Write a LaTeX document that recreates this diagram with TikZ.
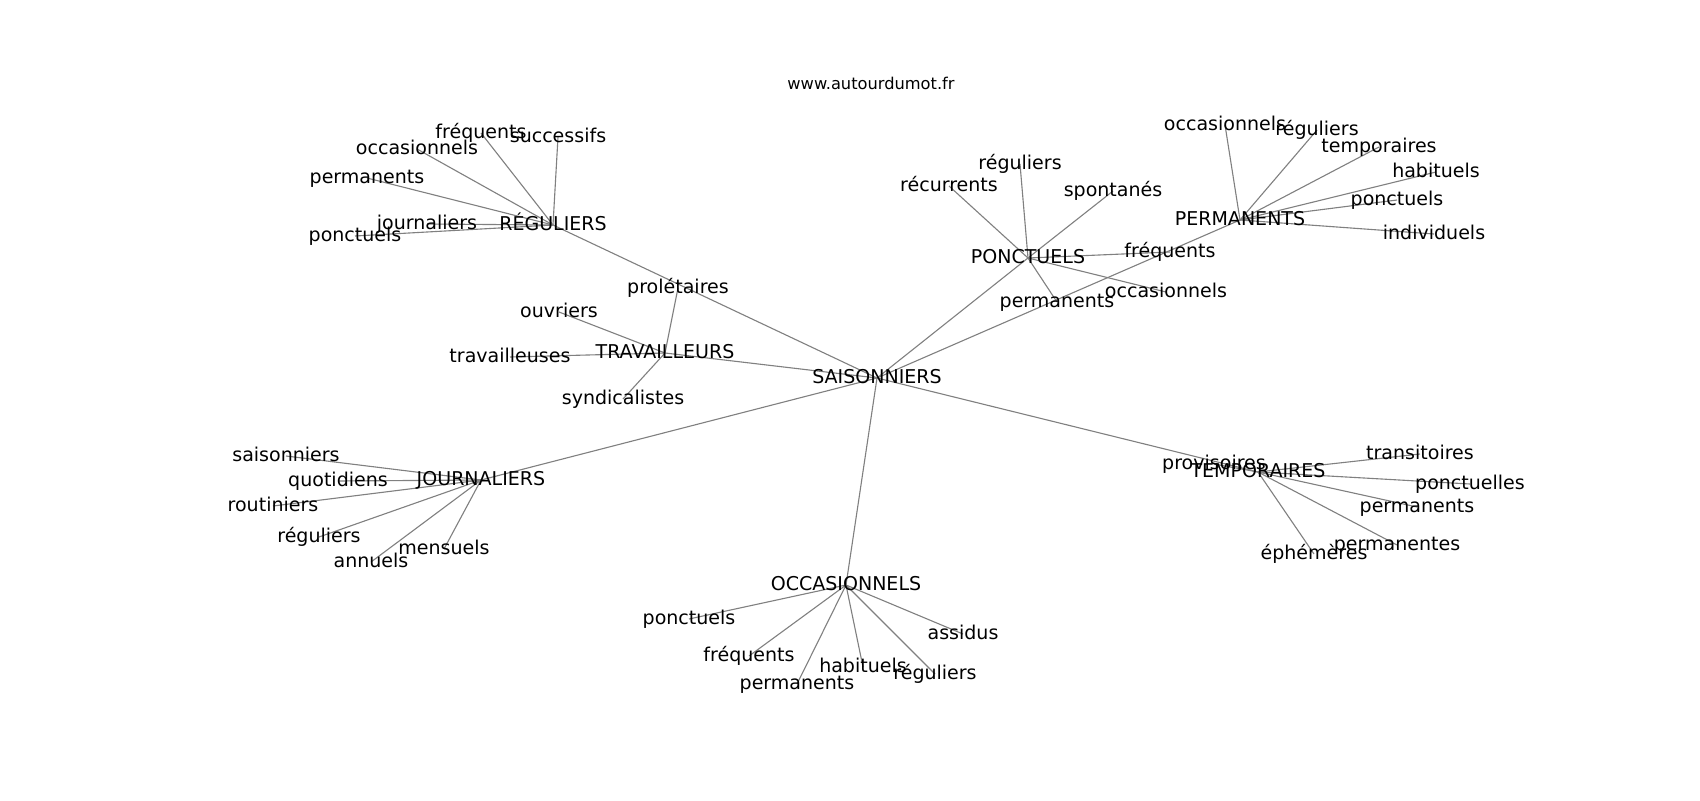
\documentclass[tikz,border=0pt]{standalone}
\usepackage{fontspec}
\setmainfont{DejaVu Sans}
\usepackage{tikz}
\tikzset{
	word/.style={font=\fontsize{13.7}{16}\selectfont, inner sep=0pt, text height=0.76em, text depth=0.23em, yshift=-1.6pt},
	link/.style={draw=black!50, line width=0.8pt}
}

\begin{document}
\begin{tikzpicture}[x=0.72pt, y=-0.72pt]
			%%%%% START %%%%%
			\useasboundingbox (0, 0) rectangle (1700, 800);
			
			\node[font=\fontsize{11.7}{14}\selectfont, inner sep=0pt] (site) at (871, 83) {www.autourdumot.fr};
			
			% centre and main words
			\coordinate (sais) at (877, 378);
			\coordinate (reg) at (553, 225);
			\coordinate (trav) at (665, 353);
			\coordinate (ponc) at (1028, 258);
			\coordinate (perm) at (1240, 220);
			\coordinate (jour) at (481, 480);
			\coordinate (occ) at (846, 585);
			\coordinate (temp) at (1258, 472);
			
			% RÉGULIERS
			\coordinate (reg1) at (481, 133);
			\coordinate (reg2) at (558, 137);
			\coordinate (reg3) at (417, 149);
			\coordinate (reg4) at (367, 178);
			\coordinate (reg5) at (427, 224);
			\coordinate (reg6) at (355, 236);
			
			% TRAVAILLEURS
			\coordinate (trav1) at (678, 288);
			\coordinate (trav2) at (559, 312);
			\coordinate (trav3) at (510, 357);
			\coordinate (trav4) at (623, 399);
			
			% PONCTUELS
			\coordinate (ponc1) at (1020, 164);
			\coordinate (ponc2) at (949, 186);
			\coordinate (ponc3) at (1113, 191);
			\coordinate (ponc4) at (1170, 252);
			\coordinate (ponc5) at (1166, 292);
			\coordinate (ponc6) at (1057, 302);
			
			% PERMANENTS
			\coordinate (perm1) at (1225, 125);
			\coordinate (perm2) at (1317, 130);
			\coordinate (perm3) at (1379, 147);
			\coordinate (perm4) at (1436, 172);
			\coordinate (perm5) at (1397, 200);
			\coordinate (perm6) at (1434, 234);
			
			% JOURNALIERS
			\coordinate (jour1) at (286, 456);
			\coordinate (jour2) at (338, 481);
			\coordinate (jour3) at (273, 506);
			\coordinate (jour4) at (319, 537);
			\coordinate (jour5) at (371, 562);
			\coordinate (jour6) at (444, 549);
			
			% OCCASIONNELS
			\coordinate (occ1) at (689, 619);
			\coordinate (occ2) at (749, 656);
			\coordinate (occ3) at (797, 684);
			\coordinate (occ4) at (863, 667);
			\coordinate (occ5) at (935, 674);
			\coordinate (occ6) at (963, 634);
			
			% TEMPORAIRES
			\coordinate (temp1) at (1214, 464);
			\coordinate (temp2) at (1420, 454);
			\coordinate (temp3) at (1470, 484);
			\coordinate (temp4) at (1417, 507);
			\coordinate (temp5) at (1397, 545);
			\coordinate (temp6) at (1314, 554);
			
			% links
			\draw[link] (sais) -- (reg);
			\draw[link] (sais) -- (trav);
			\draw[link] (sais) -- (ponc);
			\draw[link] (sais) -- (perm);
			\draw[link] (sais) -- (jour);
			\draw[link] (sais) -- (occ);
			\draw[link] (sais) -- (temp);
			
			\draw[link] (reg) -- (reg1);
			\draw[link] (reg) -- (reg2);
			\draw[link] (reg) -- (reg3);
			\draw[link] (reg) -- (reg4);
			\draw[link] (reg) -- (reg5);
			\draw[link] (reg) -- (reg6);
			
			\draw[link] (trav) -- (trav1);
			\draw[link] (trav) -- (trav2);
			\draw[link] (trav) -- (trav3);
			\draw[link] (trav) -- (trav4);
			
			\draw[link] (ponc) -- (ponc1);
			\draw[link] (ponc) -- (ponc2);
			\draw[link] (ponc) -- (ponc3);
			\draw[link] (ponc) -- (ponc4);
			\draw[link] (ponc) -- (ponc5);
			\draw[link] (ponc) -- (ponc6);
			
			\draw[link] (perm) -- (perm1);
			\draw[link] (perm) -- (perm2);
			\draw[link] (perm) -- (perm3);
			\draw[link] (perm) -- (perm4);
			\draw[link] (perm) -- (perm5);
			\draw[link] (perm) -- (perm6);
			
			\draw[link] (jour) -- (jour1);
			\draw[link] (jour) -- (jour2);
			\draw[link] (jour) -- (jour3);
			\draw[link] (jour) -- (jour4);
			\draw[link] (jour) -- (jour5);
			\draw[link] (jour) -- (jour6);
			
			\draw[link] (occ) -- (occ1);
			\draw[link] (occ) -- (occ2);
			\draw[link] (occ) -- (occ3);
			\draw[link] (occ) -- (occ4);
			\draw[link] (occ) -- (occ5);
			\draw[link] (occ) -- (occ6);
			
			\draw[link] (temp) -- (temp1);
			\draw[link] (temp) -- (temp2);
			\draw[link] (temp) -- (temp3);
			\draw[link] (temp) -- (temp4);
			\draw[link] (temp) -- (temp5);
			\draw[link] (temp) -- (temp6);
			
			% words
			\node[word] (tsais) at (sais) {SAISONNIERS};
			\node[word] (treg) at (reg) {RÉGULIERS};
			\node[word] (ttrav) at (trav) {TRAVAILLEURS};
			\node[word] (tponc) at (ponc) {PONCTUELS};
			\node[word] (tperm) at (perm) {PERMANENTS};
			\node[word] (tjour) at (jour) {JOURNALIERS};
			\node[word] (tocc) at (occ) {OCCASIONNELS};
			\node[word] (ttemp) at (temp) {TEMPORAIRES};
			
			\node[word] (treg1) at (reg1) {fréquents};
			\node[word] (treg2) at (reg2) {successifs};
			\node[word] (treg3) at (reg3) {occasionnels};
			\node[word] (treg4) at (reg4) {permanents};
			\node[word] (treg5) at (reg5) {journaliers};
			\node[word] (treg6) at (reg6) {ponctuels};
			
			\node[word] (ttrav1) at (trav1) {prolétaires};
			\node[word] (ttrav2) at (trav2) {ouvriers};
			\node[word] (ttrav3) at (trav3) {travailleuses};
			\node[word] (ttrav4) at (trav4) {syndicalistes};
			
			\node[word] (tponc1) at (ponc1) {réguliers};
			\node[word] (tponc2) at (ponc2) {récurrents};
			\node[word] (tponc3) at (ponc3) {spontanés};
			\node[word] (tponc4) at (ponc4) {fréquents};
			\node[word] (tponc5) at (ponc5) {occasionnels};
			\node[word] (tponc6) at (ponc6) {permanents};
			
			\node[word] (tperm1) at (perm1) {occasionnels};
			\node[word] (tperm2) at (perm2) {réguliers};
			\node[word] (tperm3) at (perm3) {temporaires};
			\node[word] (tperm4) at (perm4) {habituels};
			\node[word] (tperm5) at (perm5) {ponctuels};
			\node[word] (tperm6) at (perm6) {individuels};
			
			\node[word] (tjour1) at (jour1) {saisonniers};
			\node[word] (tjour2) at (jour2) {quotidiens};
			\node[word] (tjour3) at (jour3) {routiniers};
			\node[word] (tjour4) at (jour4) {réguliers};
			\node[word] (tjour5) at (jour5) {annuels};
			\node[word] (tjour6) at (jour6) {mensuels};
			
			\node[word] (tocc1) at (occ1) {ponctuels};
			\node[word] (tocc2) at (occ2) {fréquents};
			\node[word] (tocc3) at (occ3) {permanents};
			\node[word] (tocc4) at (occ4) {habituels};
			\node[word] (tocc5) at (occ5) {réguliers};
			\node[word] (tocc6) at (occ6) {assidus};
			
			\node[word] (ttemp1) at (temp1) {provisoires};
			\node[word] (ttemp2) at (temp2) {transitoires};
			\node[word] (ttemp3) at (temp3) {ponctuelles};
			\node[word] (ttemp4) at (temp4) {permanents};
			\node[word] (ttemp5) at (temp5) {permanentes};
			\node[word] (ttemp6) at (temp6) {éphémères};
			
			%%%%% END %%%%%
\end{tikzpicture}
\end{document}
